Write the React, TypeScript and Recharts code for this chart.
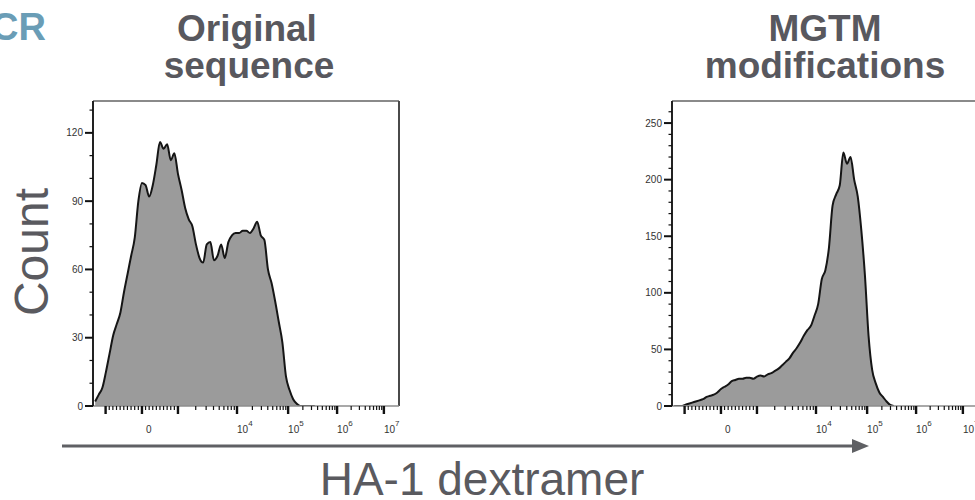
import React from 'react';
import { AreaChart, Area, XAxis, YAxis, ReferenceLine } from 'recharts';

// Histogram bin centres on the biexponential display axis (0 = zero, 1 = 10^3)
const binCenters = [
  -1.3, -1.2, -1.1, -1.0, -0.9, -0.8, -0.7, -0.6, -0.5, -0.4, -0.3, -0.2, -0.1,
  0.0, 0.1, 0.2, 0.3, 0.4, 0.5, 0.6, 0.7, 0.8, 0.9, 1.0, 1.1, 1.2, 1.3, 1.4, 1.5,
  1.6, 1.7, 1.8, 1.9, 2.0, 2.1, 2.2, 2.3, 2.4, 2.5, 2.6, 2.7, 2.8, 2.9, 3.0, 3.1,
  3.2, 3.3, 3.4, 3.5, 3.6, 3.7, 3.8, 3.9, 4.0, 4.1, 4.2, 4.3, 4.4, 4.5, 4.6, 4.7, 4.8,
];

// Original sequence
const originalCounts = [
  2, 5, 8, 15, 23, 31, 36, 41, 50, 58, 66, 74, 90,
  98, 97, 92, 97, 106, 116, 113, 115, 108, 111, 102, 95, 87, 82, 79, 71,
  65, 63, 71, 72, 64, 66, 71, 65, 72, 75, 76, 76, 77, 77, 76, 78,
  81, 75, 73, 60, 54, 46, 37, 28, 13, 7, 3, 1, 0, 0, 0, 0, 0,
];

// MGTM modifications
const mgtmCounts = [
  0, 0, 0, 1, 2, 3, 4, 5, 6, 8, 9, 10, 12,
  15, 17, 19, 22, 23, 24, 24, 25, 25, 24, 26, 27, 26, 28, 29, 31,
  33, 36, 39, 42, 47, 51, 56, 62, 67, 71, 80, 90, 112, 120, 140, 177,
  187, 195, 224, 214, 220, 200, 185, 155, 115, 62, 32, 20, 12, 8, 4, 1, 0,
];

// Decade ticks: raw value and where it sits on the display axis
const decadeValues = [-1000, 0, 1000, 1e4, 1e5, 1e6, 1e7];
const decadePositions = [-1.01, 0, 1.0, 2.64, 4.06, 5.42, 6.72];
const decadeLabels = ['', '0', '', '4', '5', '6', '7'];

const X_MIN = -1.36;
const X_MAX = 7.14;
const FONT = '"Liberation Sans", Arial, Helvetica, sans-serif';

type TickInfo = { major: boolean; label: string };
const xTickInfo = new Map<number, TickInfo>();
decadePositions.forEach((p, i) => xTickInfo.set(p, { major: true, label: decadeLabels[i] }));
// linear region between -10^3 and 10^3
for (let i = 1; i <= 9; i++) {
  xTickInfo.set((i / 10) * decadePositions[2], { major: false, label: '' });
  xTickInfo.set((i / 10) * decadePositions[0], { major: false, label: '' });
}
// log minors inside each decade above 10^3
for (let k = 2; k < decadePositions.length - 1; k++) {
  const a = decadePositions[k];
  const b = decadePositions[k + 1];
  for (let m = 2; m <= 9; m++) {
    xTickInfo.set(a + Math.log10(m) * (b - a), { major: false, label: '' });
  }
}
const xTicks = Array.from(xTickInfo.keys()).sort((a, b) => a - b);

const XTick = (props: any) => {
  const { x, y, payload } = props;
  const info = xTickInfo.get(payload.value) || { major: false, label: '' };
  return (
    <g>
      <line
        x1={x}
        x2={x}
        y1={y}
        y2={y + (info.major ? 8 : 4)}
        stroke="#111"
        strokeWidth={info.major ? 2.4 : 1.2}
      />
      {info.label === '0' && (
        <text x={x + 4} y={y + 27} fontSize={10} fill="#333" fontFamily={FONT}>
          0
        </text>
      )}
      {info.label !== '' && info.label !== '0' && (
        <text x={x} y={y + 27} fontSize={10} fill="#333" fontFamily={FONT}>
          10
          <tspan dy={-7} fontSize={8}>
            {info.label}
          </tspan>
        </text>
      )}
    </g>
  );
};

const makeYTick = (majorStep: number) => (props: any) => {
  const { x, y, payload } = props;
  const major = payload.value % majorStep === 0;
  return (
    <g>
      <line
        x1={x - (major ? 8 : 3.5)}
        x2={x}
        y1={y}
        y2={y}
        stroke="#111"
        strokeWidth={major ? 2 : 1.2}
      />
      {major && (
        <text x={x - 10} y={y + 3.5} fontSize={10} fill="#333" textAnchor="end" fontFamily={FONT}>
          {payload.value}
        </text>
      )}
    </g>
  );
};

interface HistogramProps {
  counts: number[];
  yMax: number;
  yTicks: number[];
  majorStep: number;
}

const Histogram: React.FC<HistogramProps> = ({ counts, yMax, yTicks, majorStep }) => {
  const data = binCenters.map((x, i) => ({ x, count: counts[i] }));
  return (
    <AreaChart width={352} height={350} data={data} margin={{ top: 5, right: 6, bottom: 0, left: 0 }}>
      <XAxis
        dataKey="x"
        type="number"
        domain={[X_MIN, X_MAX]}
        allowDataOverflow
        ticks={xTicks}
        interval={0}
        tick={XTick}
        tickLine={false}
        tickSize={0}
        tickMargin={0}
        height={40}
        axisLine={{ stroke: '#8c8c8c', strokeWidth: 1.5 }}
      />
      <YAxis
        type="number"
        domain={[0, yMax]}
        allowDataOverflow
        ticks={yTicks}
        interval={0}
        tick={makeYTick(majorStep)}
        tickLine={false}
        tickSize={0}
        tickMargin={0}
        width={40}
        axisLine={{ stroke: '#222', strokeWidth: 2 }}
      />
      <ReferenceLine y={yMax} stroke="#8a8a8a" strokeWidth={2} />
      <ReferenceLine x={X_MAX} stroke="#4a4a4a" strokeWidth={2} />
      <Area
        type="monotone"
        dataKey="count"
        fill="#9b9b9b"
        fillOpacity={1}
        stroke="#151515"
        strokeWidth={2}
        isAnimationActive={false}
      />
    </AreaChart>
  );
};

const leftYTicks = [0, 10, 20, 30, 40, 50, 60, 70, 80, 90, 100, 110, 120, 130];
const rightYTicks = [
  0, 10, 20, 30, 40, 50, 60, 70, 80, 90, 100, 110, 120, 130, 140, 150, 160, 170, 180,
  190, 200, 210, 220, 230, 240, 250, 260,
];

export default function App() {
  const titleStyle = { fontFamily: FONT, fontWeight: 700, fontSize: 37, fill: '#58585e' };
  return (
    <div style={{ position: 'relative', width: 975, height: 500, overflow: 'hidden', background: '#fff' }}>
      <style>{'body{margin:0;overflow:hidden}'}</style>
      <div style={{ position: 'absolute', left: 53, top: 96 }}>
        <Histogram counts={originalCounts} yMax={134} yTicks={leftYTicks} majorStep={30} />
      </div>
      <div style={{ position: 'absolute', left: 632, top: 96 }}>
        <Histogram counts={mgtmCounts} yMax={269.5} yTicks={rightYTicks} majorStep={50} />
      </div>
      <svg
        width={975}
        height={500}
        style={{ position: 'absolute', left: 0, top: 0, pointerEvents: 'none' }}
      >
        <text x={46} y={40} textAnchor="end" fontFamily={FONT} fontWeight={700} fontSize={38} fill="#6a9db6">
          TCR
        </text>
        <text x={247} y={41} textAnchor="middle" {...titleStyle}>
          Original
        </text>
        <text x={249} y={78} textAnchor="middle" {...titleStyle}>
          sequence
        </text>
        <text x={825} y={41} textAnchor="middle" {...titleStyle}>
          MGTM
        </text>
        <text x={825} y={78} textAnchor="middle" {...titleStyle}>
          modifications
        </text>
        <text
          x={48}
          y={252}
          textAnchor="middle"
          transform="rotate(-90 48 252)"
          fontFamily={FONT}
          fontSize={48}
          fill="#5a5a5f"
        >
          Count
        </text>
        <line x1={62} x2={855} y1={446} y2={446} stroke="#5f6064" strokeWidth={3} />
        <polygon points="852,439 869,446 852,453" fill="#5f6064" />
        <text x={482} y={495} textAnchor="middle" fontFamily={FONT} fontSize={46} fill="#5a5a5f">
          HA-1 dextramer
        </text>
      </svg>
    </div>
  );
}
